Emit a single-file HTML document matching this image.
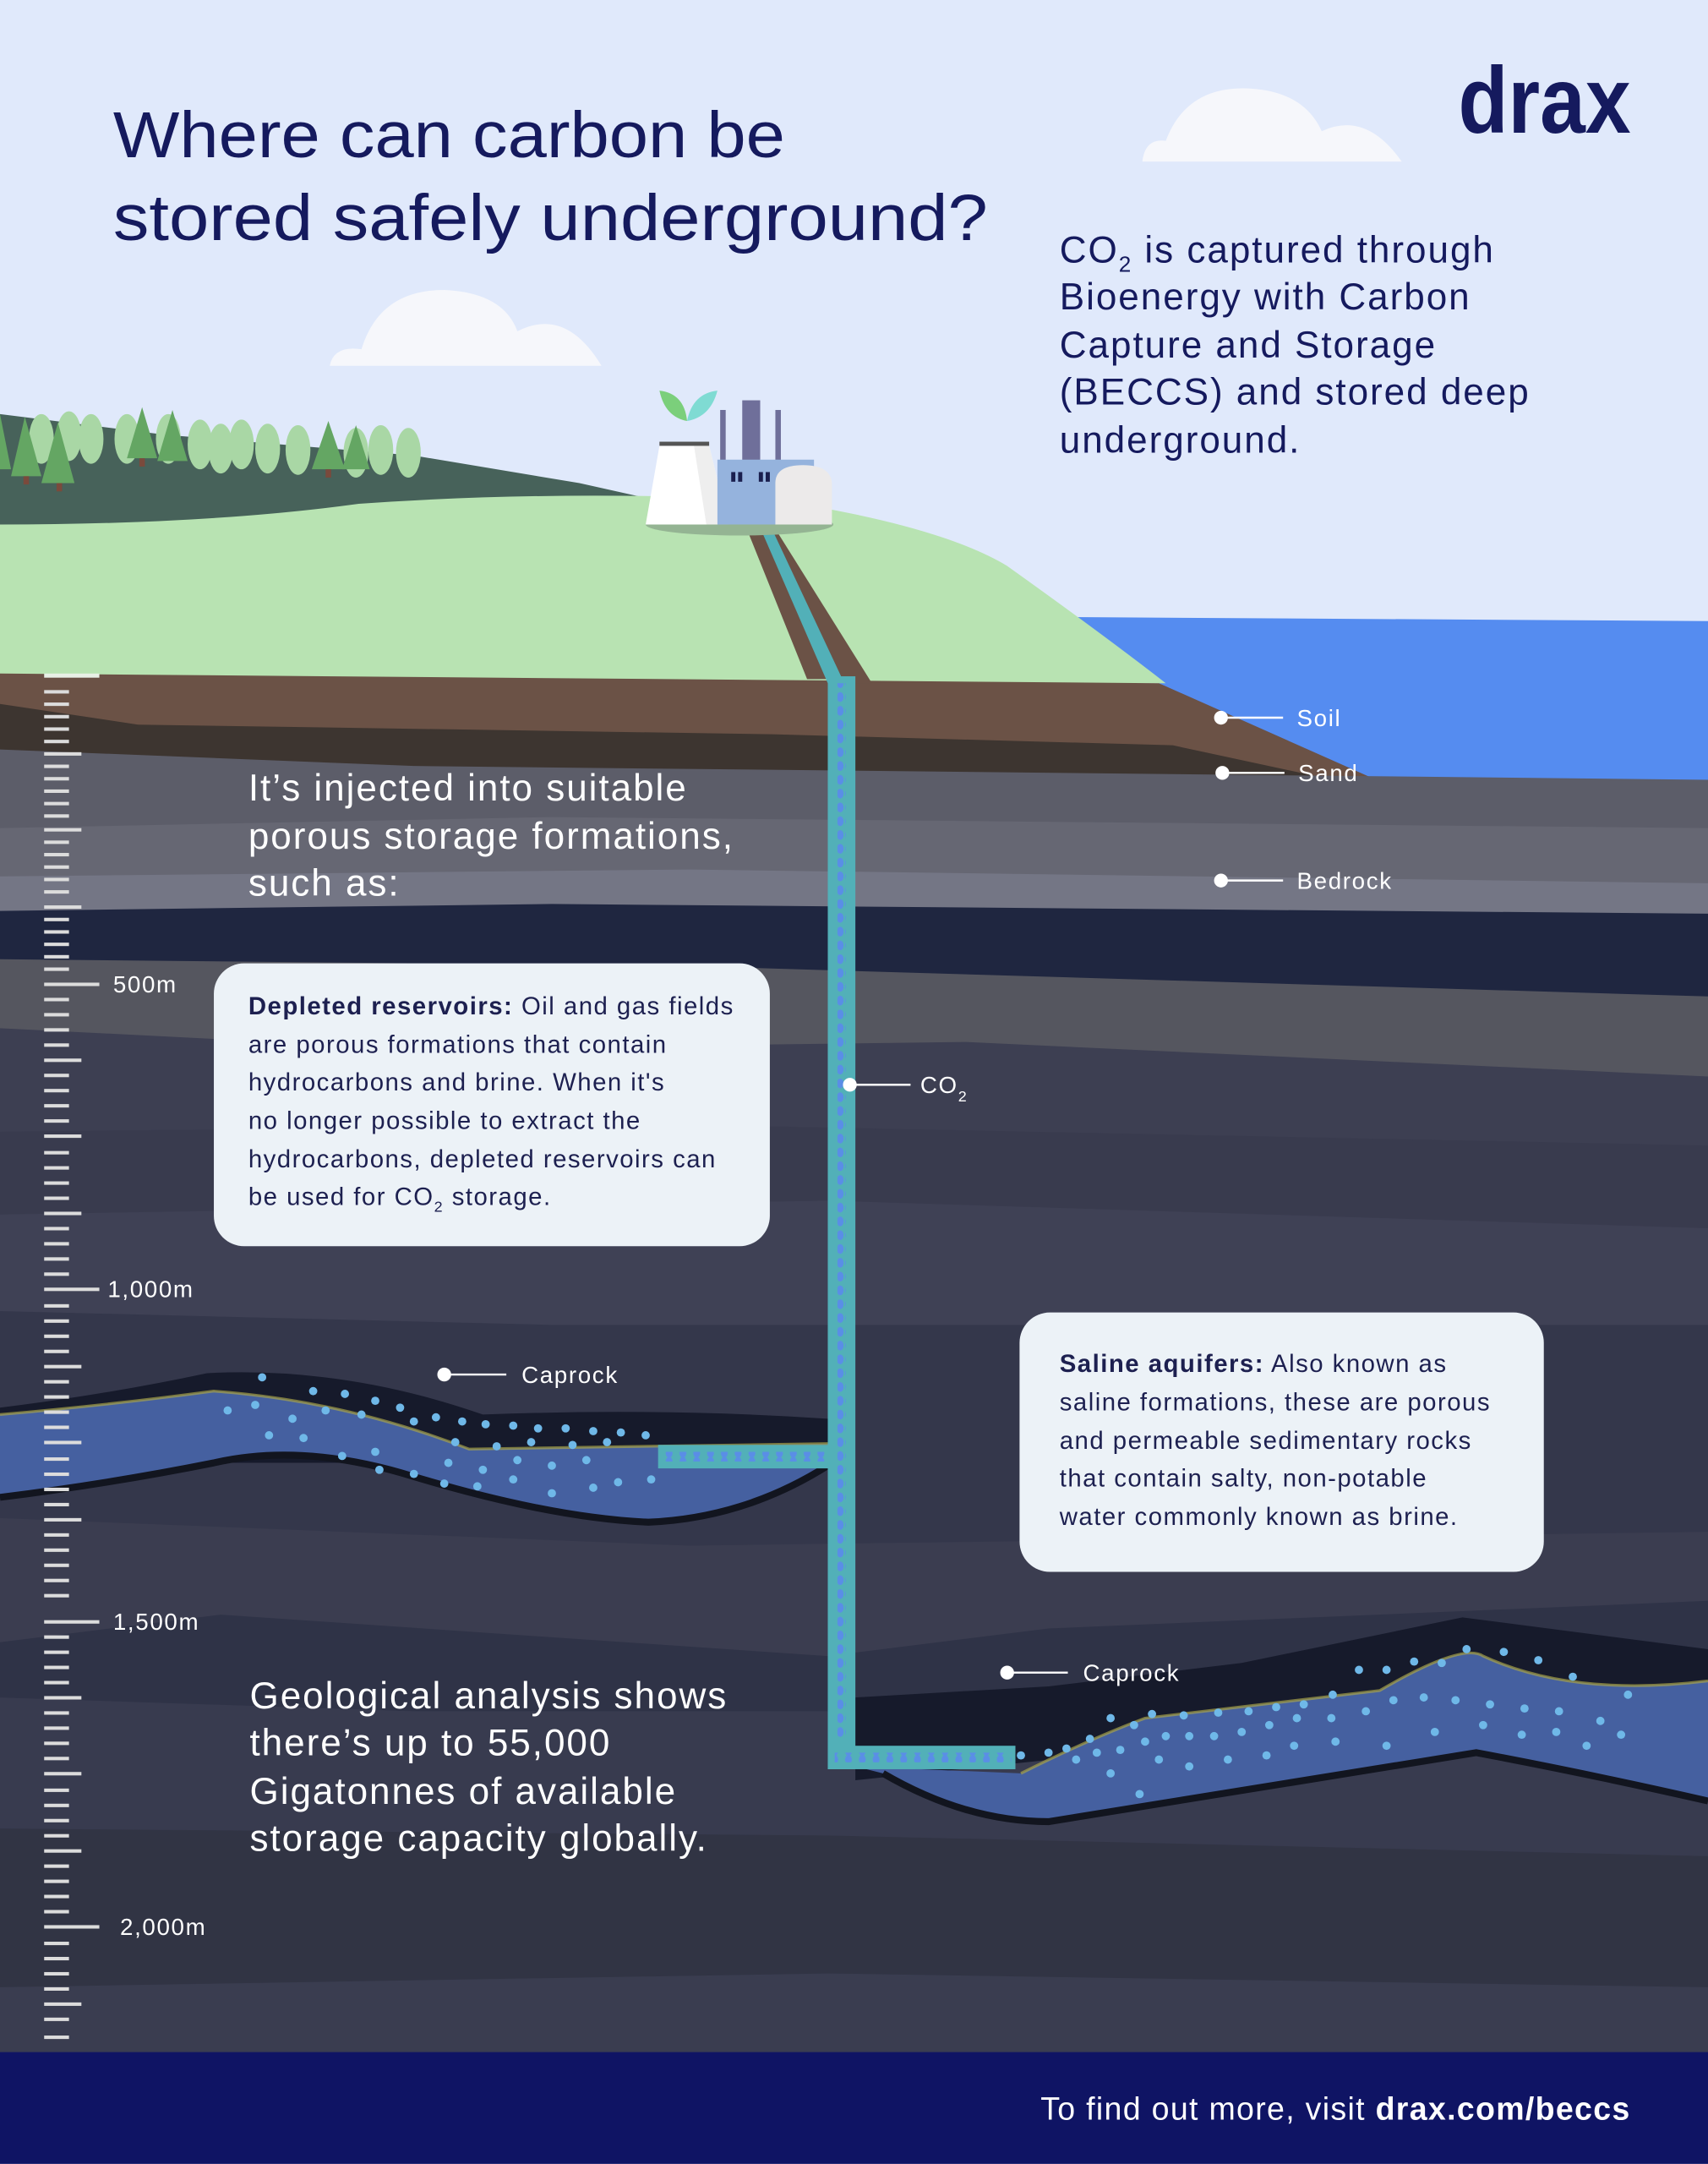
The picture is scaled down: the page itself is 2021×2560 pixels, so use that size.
<!DOCTYPE html>
<html><head><meta charset="utf-8"><style>
html,body{margin:0;padding:0;background:#e0e9fb}
svg{display:block}
text{font-family:"Liberation Sans",sans-serif}
</style></head><body>
<svg width="2021" height="2560" viewBox="0 0 1238 1568" xmlns="http://www.w3.org/2000/svg">
<rect x="0" y="0" width="1238" height="1568" fill="#e0e9fb"/>
<g fill="#f6f7fb">
<path d="M828 117 Q830 100 845 102 Q860 62 905 64 Q945 66 958 95 Q990 80 1016 117 Z"/>
<path d="M239 265 Q242 250 262 253 Q275 210 322 210 Q365 212 375 240 Q410 222 436 265 Z"/>
</g>
<path d="M760 447 L1238 450 L1238 575 L1000 575 L840 495 Z" fill="#558cf0"/>
<path d="M0 300 L120 315 L300 330 L420 350 L600 390 L600 420 L0 420 Z" fill="#47625a"/>
<g>
<g fill="#a9d7a5">
<ellipse cx="30" cy="318" rx="9" ry="18"/><ellipse cx="50" cy="316" rx="9" ry="18"/><ellipse cx="66" cy="318" rx="9" ry="18"/><ellipse cx="92" cy="318" rx="9" ry="18"/><ellipse cx="122" cy="318" rx="9" ry="18"/><ellipse cx="145" cy="322" rx="9" ry="18"/><ellipse cx="160" cy="325" rx="9" ry="18"/><ellipse cx="175" cy="322" rx="9" ry="18"/><ellipse cx="194" cy="325" rx="9" ry="18"/><ellipse cx="216" cy="326" rx="9" ry="18"/><ellipse cx="258" cy="328" rx="9" ry="18"/><ellipse cx="276" cy="326" rx="9" ry="18"/><ellipse cx="296" cy="328" rx="9" ry="18"/>
</g>
<g fill="#64a663">
<polygon points="0,300 -6,340 8,340"/><polygon points="18,302 8,345 30,345"/><polygon points="42,306 30,350 54,350"/><polygon points="103,295 92,332 114,332"/><polygon points="125,297 114,334 136,334"/><polygon points="238,305 226,340 250,340"/><polygon points="258,308 248,340 268,340"/>
</g>
<g fill="#7a4a3c"><rect x="17" y="345" width="4" height="6"/><rect x="41" y="350" width="4" height="6"/><rect x="101" y="332" width="4" height="6"/><rect x="236" y="340" width="4" height="6"/></g>
</g>
<path d="M0 380 Q150 380 260 365 Q400 355 560 362 Q680 380 730 410 Q800 460 845 495 L0 495 Z" fill="#b8e3b2"/>
<path d="M0 488 L840 495 L1020 575 L0 560 Z" fill="#6b5246"/>
<path d="M0 510 L100 525 L560 532 L850 540 L1022 577 L0 577 Z" fill="#3d3530"/>
<path d="M0 543 L300 555 L1238 565 L1238 1490 L0 1490 Z" fill="#5c5d69"/>
<path d="M0 600 L400 592 L1238 600 L1238 1490 L0 1490 Z" fill="#666773"/>
<path d="M0 635 L500 630 L1238 640 L1238 1490 L0 1490 Z" fill="#747685"/>
<path d="M0 660 L400 655 L1238 662 L1238 1490 L0 1490 Z" fill="#1f2640"/>
<path d="M0 695 L500 700 L1238 722 L1238 1490 L0 1490 Z" fill="#55565f"/>
<path d="M0 745 L300 760 L700 755 L1238 780 L1238 1490 L0 1490 Z" fill="#3d3f52"/>
<path d="M0 820 L500 815 L1238 830 L1238 1490 L0 1490 Z" fill="#393b4e"/>
<path d="M0 880 L600 870 L1238 890 L1238 1490 L0 1490 Z" fill="#3f4155"/>
<path d="M0 950 L400 960 L1238 960 L1238 1490 L0 1490 Z" fill="#34374b"/>
<path d="M0 1100 L500 1120 L1238 1110 L1238 1490 L0 1490 Z" fill="#3b3d50"/>
<path d="M0 1190 L160 1170 L600 1200 L760 1180 L1238 1160 L1238 1490 L0 1490 Z" fill="#2f3347"/>
<path d="M0 1230 L300 1240 L1238 1240 L1238 1490 L0 1490 Z" fill="#383b4f"/>
<path d="M0 1325 L600 1330 L1238 1345 L1238 1490 L0 1490 Z" fill="#313444"/>
<path d="M0 1440 L600 1430 L1238 1440 L1238 1490 L0 1490 Z" fill="#3a3d50"/>
<path d="M0 1020 Q80 1010 150 995 Q250 990 350 1025 Q480 1020 600 1028 L600 1060 L0 1060 Z" fill="#161a2b"/>
<path d="M0 1025 Q80 1018 155 1008 Q250 1015 340 1050 Q470 1048 600 1046 L600 1062 Q540 1100 470 1103 Q400 1100 300 1070 Q220 1045 155 1060 Q80 1075 0 1085 Z" fill="#4560a0"/>
<path d="M0 1085 Q80 1075 155 1060 Q220 1045 300 1070 Q400 1100 470 1103 Q540 1100 600 1062" fill="none" stroke="#12151f" stroke-width="5"/>
<path d="M0 1025 Q80 1018 155 1008 Q250 1015 340 1050 Q470 1048 600 1046" fill="none" stroke="#a7a24a" stroke-width="2" opacity=".7"/>
<path d="M620 1230 L760 1222 L900 1205 L1060 1172 L1238 1195 L1238 1225 L620 1290 Z" fill="#161a2b"/>
<path d="M620 1280 L740 1285 Q790 1260 830 1245 L1000 1225 Q1060 1190 1075 1200 Q1140 1230 1238 1218 L1238 1305 Q1150 1285 1070 1270 L760 1320 Q700 1320 640 1285 Z" fill="#4560a0"/>
<path d="M640 1285 Q700 1320 760 1320 L1070 1270 Q1150 1285 1238 1305" fill="none" stroke="#12151f" stroke-width="5"/>
<path d="M740 1285 Q790 1260 830 1245 L1000 1225 Q1060 1190 1075 1200 Q1140 1230 1238 1218" fill="none" stroke="#a7a24a" stroke-width="2" opacity=".7"/>
<g fill="#6fb8e8">
<circle cx="190" cy="998" r="3"/><circle cx="227" cy="1008" r="3"/><circle cx="250" cy="1010" r="3"/><circle cx="272" cy="1015" r="3"/><circle cx="290" cy="1020" r="3"/><circle cx="316" cy="1027" r="3"/><circle cx="335" cy="1030" r="3"/><circle cx="352" cy="1032" r="3"/><circle cx="372" cy="1033" r="3"/><circle cx="390" cy="1035" r="3"/><circle cx="410" cy="1035" r="3"/><circle cx="430" cy="1037" r="3"/><circle cx="450" cy="1038" r="3"/><circle cx="468" cy="1040" r="3"/>
<circle cx="165" cy="1022" r="3"/><circle cx="185" cy="1018" r="3"/><circle cx="212" cy="1028" r="3"/><circle cx="236" cy="1022" r="3"/><circle cx="262" cy="1025" r="3"/><circle cx="300" cy="1030" r="3"/><circle cx="330" cy="1045" r="3"/><circle cx="360" cy="1048" r="3"/><circle cx="385" cy="1045" r="3"/><circle cx="415" cy="1047" r="3"/><circle cx="440" cy="1045" r="3"/>
<circle cx="195" cy="1040" r="3"/><circle cx="220" cy="1042" r="3"/><circle cx="248" cy="1055" r="3"/><circle cx="272" cy="1052" r="3"/><circle cx="300" cy="1068" r="3"/><circle cx="325" cy="1060" r="3"/><circle cx="350" cy="1065" r="3"/><circle cx="375" cy="1058" r="3"/><circle cx="400" cy="1062" r="3"/><circle cx="425" cy="1058" r="3"/><circle cx="275" cy="1065" r="3"/><circle cx="322" cy="1075" r="3"/><circle cx="346" cy="1077" r="3"/><circle cx="372" cy="1072" r="3"/><circle cx="400" cy="1082" r="3"/><circle cx="430" cy="1078" r="3"/><circle cx="448" cy="1074" r="3"/><circle cx="472" cy="1072" r="3"/>
<circle cx="740" cy="1272" r="3"/><circle cx="760" cy="1270" r="3"/><circle cx="773" cy="1267" r="3"/><circle cx="790" cy="1260" r="3"/><circle cx="805" cy="1245" r="3"/><circle cx="822" cy="1250" r="3"/><circle cx="835" cy="1242" r="3"/><circle cx="858" cy="1243" r="3"/><circle cx="883" cy="1241" r="3"/><circle cx="905" cy="1240" r="3"/><circle cx="925" cy="1237" r="3"/><circle cx="945" cy="1235" r="3"/><circle cx="966" cy="1228" r="3"/><circle cx="985" cy="1210" r="3"/><circle cx="1005" cy="1210" r="3"/><circle cx="1025" cy="1204" r="3"/><circle cx="1045" cy="1205" r="3"/><circle cx="1063" cy="1195" r="3"/><circle cx="1090" cy="1197" r="3"/><circle cx="1115" cy="1203" r="3"/><circle cx="1140" cy="1215" r="3"/>
<circle cx="780" cy="1275" r="3"/><circle cx="795" cy="1270" r="3"/><circle cx="812" cy="1268" r="3"/><circle cx="830" cy="1262" r="3"/><circle cx="845" cy="1258" r="3"/><circle cx="862" cy="1258" r="3"/><circle cx="880" cy="1258" r="3"/><circle cx="900" cy="1255" r="3"/><circle cx="920" cy="1250" r="3"/><circle cx="940" cy="1245" r="3"/><circle cx="965" cy="1245" r="3"/><circle cx="990" cy="1240" r="3"/><circle cx="1010" cy="1232" r="3"/><circle cx="1032" cy="1230" r="3"/><circle cx="1055" cy="1232" r="3"/><circle cx="1080" cy="1235" r="3"/><circle cx="1105" cy="1238" r="3"/><circle cx="1130" cy="1240" r="3"/><circle cx="1160" cy="1247" r="3"/><circle cx="1180" cy="1228" r="3"/>
<circle cx="805" cy="1285" r="3"/><circle cx="826" cy="1300" r="3"/><circle cx="840" cy="1275" r="3"/><circle cx="862" cy="1280" r="3"/><circle cx="890" cy="1275" r="3"/><circle cx="918" cy="1272" r="3"/><circle cx="938" cy="1265" r="3"/><circle cx="968" cy="1262" r="3"/><circle cx="1005" cy="1265" r="3"/><circle cx="1040" cy="1255" r="3"/><circle cx="1075" cy="1250" r="3"/><circle cx="1103" cy="1257" r="3"/><circle cx="1128" cy="1255" r="3"/><circle cx="1150" cy="1265" r="3"/><circle cx="1175" cy="1257" r="3"/>
</g>
<defs><pattern id="p" width="6" height="10" patternUnits="userSpaceOnUse"><ellipse cx="3" cy="5" rx="2.5" ry="3.5" fill="#5a8ee6"/></pattern>
<pattern id="q" width="10" height="6" patternUnits="userSpaceOnUse"><ellipse cx="5" cy="3" rx="2.5" ry="3.3" fill="#5a8ee6"/></pattern></defs>
<path d="M540 380 L556 380 L602 492 L585 492 Z" fill="#6b5246"/>
<path d="M544 380 L560 380 L632 495 L612 495 Z" fill="#6b5246"/>
<path d="M550 380 L558 380 L612 495 L600 495 Z" fill="#52b0b8"/>
<rect x="600" y="490" width="20" height="792" fill="#52b0b8"/>
<rect x="600" y="1265" width="136" height="17" fill="#52b0b8"/>
<rect x="477" y="1047" width="125" height="17" fill="#52b0b8"/>
<rect x="607" y="495" width="6" height="765" fill="url(#p)"/>
<rect x="480" y="1052" width="120" height="7" fill="url(#q)"/>
<rect x="605" y="1270" width="128" height="7" fill="url(#q)"/>
<ellipse cx="536" cy="380" rx="68" ry="8" fill="#94b493"/>
<path d="M478 323 L514 323 L528 380 L468 380 Z" fill="#fff"/>
<path d="M503 323 L514 323 L528 380 L512 380 Z" fill="#eeeeee"/>
<rect x="478" y="320" width="36" height="3" fill="#555"/>
<path d="M478 283 Q496 285 498 305 Q482 302 478 283 Z" fill="#7bcf7b"/>
<path d="M520 283 Q502 285 498 305 Q515 302 520 283 Z" fill="#7fdbd3"/>
<rect x="538" y="290" width="13" height="45" fill="#6f6f9a"/>
<rect x="522" y="297" width="4" height="38" fill="#6f6f9a"/>
<rect x="562" y="297" width="4" height="38" fill="#6f6f9a"/>
<rect x="520" y="333" width="70" height="47" fill="#95b3dd"/>
<rect x="530" y="342" width="3" height="7" fill="#1a1f4e"/><rect x="535" y="342" width="3" height="7" fill="#1a1f4e"/><rect x="550" y="342" width="3" height="7" fill="#1a1f4e"/><rect x="555" y="342" width="3" height="7" fill="#1a1f4e"/>
<path d="M562 350 Q562 337 582 337 Q602 337 603 350 L603 380 L562 380 Z" fill="#eceaea"/>
<g fill="#fff" stroke="#fff">
<line x1="885" y1="520" x2="930" y2="520" stroke-width="1.5"/><circle cx="885" cy="520" r="5" stroke="none"/>
<line x1="886" y1="560" x2="931" y2="560" stroke-width="1.5"/><circle cx="886" cy="560" r="5" stroke="none"/>
<line x1="885" y1="638" x2="930" y2="638" stroke-width="1.5"/><circle cx="885" cy="638" r="5" stroke="none"/>
<line x1="616" y1="786" x2="660" y2="786" stroke-width="1.5"/><circle cx="616" cy="786" r="5" stroke="none"/>
<line x1="322" y1="996" x2="367" y2="996" stroke-width="1.5"/><circle cx="322" cy="996" r="5" stroke="none"/>
<line x1="730" y1="1212" x2="774" y2="1212" stroke-width="1.5"/><circle cx="730" cy="1212" r="5" stroke="none"/>
</g>
<g fill="#fff" font-size="17" letter-spacing="1">
<text x="940" y="526">Soil</text>
<text x="941" y="566">Sand</text>
<text x="940" y="644">Bedrock</text>
<text x="667" y="792">CO<tspan font-size="11" dy="6">2</tspan></text>
<text x="378" y="1002">Caprock</text>
<text x="785" y="1218">Caprock</text>
<text x="82" y="719">500m</text>
<text x="78" y="940">1,000m</text>
<text x="82" y="1181">1,500m</text>
<text x="87" y="1402">2,000m</text>
</g>
<rect x="155" y="698" width="403" height="205" rx="22" fill="#ecf2f7"/>
<rect x="739" y="951" width="380" height="188" rx="22" fill="#ecf2f7"/>
<g fill="#1d2050" font-size="18" letter-spacing="0.9">
<text x="180" y="735"><tspan font-weight="bold">Depleted reservoirs:</tspan> Oil and gas fields</text>
<text x="180" y="763">are porous formations that contain</text>
<text x="180" y="790">hydrocarbons and brine. When it's</text>
<text x="180" y="818">no longer possible to extract the</text>
<text x="180" y="846">hydrocarbons, depleted reservoirs can</text>
<text x="180" y="873">be used for CO<tspan font-size="11" dy="5">2</tspan><tspan dy="-5"> storage.</tspan></text>
<text x="768" y="994"><tspan font-weight="bold">Saline aquifers:</tspan> Also known as</text>
<text x="768" y="1022">saline formations, these are porous</text>
<text x="768" y="1050">and permeable sedimentary rocks</text>
<text x="768" y="1077">that contain salty, non-potable</text>
<text x="768" y="1105">water commonly known as brine.</text>
</g>
<g fill="#151a5e" font-size="47">
<text x="82" y="114" textLength="487" lengthAdjust="spacingAndGlyphs">Where can carbon be</text>
<text x="82" y="174" textLength="634" lengthAdjust="spacingAndGlyphs">stored safely underground?</text>
</g>
<text x="1057" y="96" fill="#151a5e" font-size="68" font-weight="bold" textLength="125" lengthAdjust="spacingAndGlyphs">drax</text>
<g fill="#151a5e" font-size="27" letter-spacing="1.2">
<text x="768" y="190">CO<tspan font-size="16" dy="7">2</tspan><tspan dy="-7"> is captured through</tspan></text>
<text x="768" y="224">Bioenergy with Carbon</text>
<text x="768" y="259">Capture and Storage</text>
<text x="768" y="293">(BECCS) and stored deep</text>
<text x="768" y="328">underground.</text>
</g>
<g fill="#fff" font-size="27" letter-spacing="1.2">
<text x="180" y="580">It’s injected into suitable</text>
<text x="180" y="615">porous storage formations,</text>
<text x="180" y="649">such as:</text>
<text x="181" y="1238">Geological analysis shows</text>
<text x="181" y="1272">there’s up to 55,000</text>
<text x="181" y="1307">Gigatonnes of available</text>
<text x="181" y="1341">storage capacity globally.</text>
</g>
<rect x="0" y="1487" width="1238" height="81" fill="#0f1464"/>
<text x="1182" y="1536" text-anchor="end" fill="#fff" font-size="23" letter-spacing="0.8">To find out more, visit <tspan font-weight="bold">drax.com/beccs</tspan></text>
<g fill="#dcdcdc">
<rect x="32" y="488" width="40" height="3" fill="#e8f0e6"/>
<rect x="32" y="500" width="18" height="2.5"/><rect x="32" y="509" width="18" height="2.5"/><rect x="32" y="518" width="18" height="2.5"/><rect x="32" y="527" width="18" height="2.5"/><rect x="32" y="536" width="18" height="2.5"/><rect x="32" y="545" width="27" height="2.5"/>
<rect x="32" y="554" width="18" height="2.5"/><rect x="32" y="563" width="18" height="2.5"/><rect x="32" y="572" width="18" height="2.5"/><rect x="32" y="581" width="18" height="2.5"/><rect x="32" y="590" width="18" height="2.5"/><rect x="32" y="600" width="27" height="2.5"/>
<rect x="32" y="609" width="18" height="2.5"/><rect x="32" y="618" width="18" height="2.5"/><rect x="32" y="627" width="18" height="2.5"/><rect x="32" y="636" width="18" height="2.5"/><rect x="32" y="645" width="18" height="2.5"/><rect x="32" y="656" width="27" height="2.5"/>
<rect x="32" y="665" width="18" height="2.5"/><rect x="32" y="674" width="18" height="2.5"/><rect x="32" y="683" width="18" height="2.5"/><rect x="32" y="692" width="18" height="2.5"/><rect x="32" y="701" width="18" height="2.5"/><rect x="32" y="712" width="40" height="2.5"/>
<rect x="32" y="723" width="18" height="2.5"/><rect x="32" y="734" width="18" height="2.5"/><rect x="32" y="745" width="18" height="2.5"/><rect x="32" y="756" width="18" height="2.5"/><rect x="32" y="767" width="27" height="2.5"/>
<rect x="32" y="778" width="18" height="2.5"/><rect x="32" y="789" width="18" height="2.5"/><rect x="32" y="800" width="18" height="2.5"/><rect x="32" y="811" width="18" height="2.5"/><rect x="32" y="822" width="27" height="2.5"/>
<rect x="32" y="834" width="18" height="2.5"/><rect x="32" y="845" width="18" height="2.5"/><rect x="32" y="856" width="18" height="2.5"/><rect x="32" y="867" width="18" height="2.5"/><rect x="32" y="878" width="27" height="2.5"/>
<rect x="32" y="889" width="18" height="2.5"/><rect x="32" y="900" width="18" height="2.5"/><rect x="32" y="911" width="18" height="2.5"/><rect x="32" y="922" width="18" height="2.5"/><rect x="32" y="933" width="40" height="2.5"/>
<rect x="32" y="945" width="18" height="2.5"/><rect x="32" y="956" width="18" height="2.5"/><rect x="32" y="967" width="18" height="2.5"/><rect x="32" y="978" width="18" height="2.5"/><rect x="32" y="989" width="27" height="2.5"/>
<rect x="32" y="1000" width="18" height="2.5"/><rect x="32" y="1011" width="18" height="2.5"/><rect x="32" y="1022" width="18" height="2.5"/><rect x="32" y="1033" width="18" height="2.5"/><rect x="32" y="1044" width="27" height="2.5"/>
<rect x="32" y="1056" width="18" height="2.5"/><rect x="32" y="1067" width="18" height="2.5"/><rect x="32" y="1078" width="18" height="2.5"/><rect x="32" y="1089" width="18" height="2.5"/><rect x="32" y="1100" width="27" height="2.5"/>
<rect x="32" y="1111" width="18" height="2.5"/><rect x="32" y="1122" width="18" height="2.5"/><rect x="32" y="1133" width="18" height="2.5"/><rect x="32" y="1144" width="18" height="2.5"/><rect x="32" y="1155" width="18" height="2.5"/><rect x="32" y="1174" width="40" height="2.5"/>
<rect x="32" y="1185" width="18" height="2.5"/><rect x="32" y="1196" width="18" height="2.5"/><rect x="32" y="1207" width="18" height="2.5"/><rect x="32" y="1218" width="18" height="2.5"/><rect x="32" y="1229" width="27" height="2.5"/>
<rect x="32" y="1240" width="18" height="2.5"/><rect x="32" y="1251" width="18" height="2.5"/><rect x="32" y="1262" width="18" height="2.5"/><rect x="32" y="1273" width="18" height="2.5"/><rect x="32" y="1284" width="27" height="2.5"/>
<rect x="32" y="1296" width="18" height="2.5"/><rect x="32" y="1307" width="18" height="2.5"/><rect x="32" y="1318" width="18" height="2.5"/><rect x="32" y="1329" width="18" height="2.5"/><rect x="32" y="1340" width="27" height="2.5"/>
<rect x="32" y="1351" width="18" height="2.5"/><rect x="32" y="1362" width="18" height="2.5"/><rect x="32" y="1373" width="18" height="2.5"/><rect x="32" y="1384" width="18" height="2.5"/><rect x="32" y="1395" width="40" height="2.5"/>
<rect x="32" y="1407" width="18" height="2.5"/><rect x="32" y="1418" width="18" height="2.5"/><rect x="32" y="1429" width="18" height="2.5"/><rect x="32" y="1440" width="18" height="2.5"/><rect x="32" y="1451" width="27" height="2.5"/>
<rect x="32" y="1462" width="18" height="2.5"/><rect x="32" y="1475" width="18" height="2.5"/>
</g>
</svg>
</body></html>
